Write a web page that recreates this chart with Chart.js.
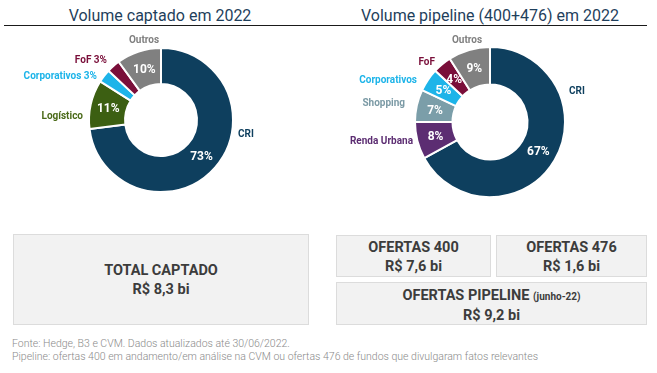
<!DOCTYPE html>
<html>
<head>
<meta charset="utf-8">
<script src="https://cdn.jsdelivr.net/npm/chart.js@4.4.0/dist/chart.umd.min.js"></script>
<style>
    body { margin: 0; background: #fff; font-family: Roboto, "Noto Sans", sans-serif; }
    #page { position: relative; width: 657px; height: 373px; overflow: hidden; }
    .title { position: absolute; top: 6px; font-size: 16px; font-weight: 400; color: #1f3f5c; text-align: center; white-space: nowrap; }
    .rule { position: absolute; top: 25px; left: 4px; width: 643px; height: 0; border-top: 1.5px solid #1a1a1a; }
    .chartBox { position: absolute; }
    .box { position: absolute; background: #f2f2f2; border: 1px solid #dcdcdc; box-sizing: border-box;
        color: #3c3c3c; font-weight: 700; font-size: 14.5px; text-align: center; line-height: 19px; }
    .box small { font-size: 10px; }
    .note { position: absolute; left: 12px; font-size: 10.5px; font-weight: 300; color: #8a8a8a; white-space: nowrap; }
</style>
</head>
<body>
<div id="page">
    <div class="title" style="left: 0; width: 320px;">Volume captado em 2022</div>
    <div class="title" style="left: 330px; width: 320px;">Volume pipeline (400+476) em 2022</div>
    <div class="rule"></div>

    <div class="chartBox" style="left: 0; top: 28px; width: 330px; height: 200px;"><canvas id="captadoChart"></canvas></div>
    <div class="chartBox" style="left: 330px; top: 28px; width: 327px; height: 200px;"><canvas id="pipelineChart"></canvas></div>

    <div class="box" style="left: 13px; top: 234px; width: 296px; height: 91px; padding-top: 26px;">TOTAL CAPTADO<br>R$ 8,3 bi</div>
    <div class="box" style="left: 336px; top: 235px; width: 155px; height: 42px; padding-top: 2px;">OFERTAS 400<br>R$ 7,6 bi</div>
    <div class="box" style="left: 496px; top: 235px; width: 151px; height: 42px; padding-top: 2px;">OFERTAS 476<br>R$ 1,6 bi</div>
    <div class="box" style="left: 336px; top: 282px; width: 311px; height: 43px; padding-top: 3px;">OFERTAS PIPELINE <small>(junho-22)</small><br>R$ 9,2 bi</div>

    <div class="note" style="top: 337px;">Fonte: Hedge, B3 e CVM. Dados atualizados até 30/06/2022.</div>
    <div class="note" style="top: 350px;">Pipeline: ofertas 400 em andamento/em análise na CVM ou ofertas 476 de fundos que divulgaram fatos relevantes</div>
</div>

<script>
    // Volume captado em 2022 (%)
    const captadoLabels = ['CRI', 'Logístico', 'Corporativos 3%', 'FoF 3%', 'Outros'];
    const captadoValues = [73, 11, 3, 3, 10];

    // Volume pipeline (400+476) em 2022 (%)
    const pipelineLabels = ['CRI', 'Renda Urbana', 'Shopping', 'Corporativos', 'FoF', 'Outros'];
    const pipelineValues = [67, 8, 7, 5, 4, 9];

    // couleurs par catégorie
    const colors = {
        'CRI': '#0e3f5e',
        'Logístico': '#3c5f12',
        'Corporativos': '#1db4e9',
        'FoF': '#7a0f3a',
        'Outros': '#808080',
        'Renda Urbana': '#5c2d72',
        'Shopping': '#7b9ea9'
    };
    const labelColors = {
        'Logístico': '#4a6a18',
        'Shopping': '#7b9aa5'
    };

    // position des étiquettes externes (décalage depuis le centre du donut)
    const captadoLabelPos = [[77, 14, 'left'], [-78, -4, 'right'], [-64, -44, 'right'], [-54, -60, 'right'], [-17, -80, 'center']];
    const pipelineLabelPos = [[79, -31, 'left'], [-77, 19, 'right'], [-85, -19, 'right'], [-73, -42, 'right'], [-55, -60, 'right'], [-23, -82, 'center']];

    function colorOf(label) {
        return colors[label.replace(/ \d+%$/, '')];
    }

    const donutLabels = {
        id: 'donutLabels',
        afterDatasetsDraw(chart, args, opts) {
            const ctx = chart.ctx;
            const meta = chart.getDatasetMeta(0);
            const values = chart.data.datasets[0].data;
            const cx = meta.data[0].x, cy = meta.data[0].y;
            ctx.save();
            ctx.textBaseline = 'middle';
            meta.data.forEach((arc, i) => {
                const label = chart.data.labels[i];
                const base = label.replace(/ \d+%$/, '');
                // pourcentage dans le segment
                if (opts.inside[i]) {
                    const p = arc.tooltipPosition();
                    ctx.fillStyle = '#ffffff';
                    ctx.font = 'bold 12px Roboto';
                    ctx.textAlign = 'center';
                    ctx.fillText(values[i] + '%', p.x, p.y + 1);
                }
                // étiquette externe
                const pos = opts.positions[i];
                ctx.fillStyle = labelColors[base] || colorOf(label);
                ctx.font = 'bold 10px Roboto';
                ctx.textAlign = pos[2];
                ctx.fillText(label, cx + pos[0], cy + pos[1]);
            });
            ctx.restore();
        }
    };

    function drawDonut(canvasId, labels, values, positions, inside, padding) {
        const ctx = document.getElementById(canvasId).getContext('2d');
        return new Chart(ctx, {
            type: 'doughnut',
            data: {
                labels: labels,
                datasets: [{
                    data: values,
                    backgroundColor: labels.map(colorOf),
                    borderColor: '#ffffff',
                    borderWidth: 2
                }]
            },
            options: {
                responsive: true,
                maintainAspectRatio: false,
                animation: false,
                cutout: '50%',
                layout: {padding: padding},
                plugins: {
                    legend: {display: false},
                    tooltip: {enabled: false},
                    donutLabels: {positions: positions, inside: inside}
                }
            },
            plugins: [donutLabels]
        });
    }

    drawDonut('captadoChart', captadoLabels, captadoValues, captadoLabelPos,
        [true, true, false, false, true], {left: 88, right: 96, top: 19, bottom: 35});
    drawDonut('pipelineChart', pipelineLabels, pipelineValues, pipelineLabelPos,
        [true, true, true, true, true, true], {left: 84, right: 91, top: 18, bottom: 30});
</script>
</body>
</html>
